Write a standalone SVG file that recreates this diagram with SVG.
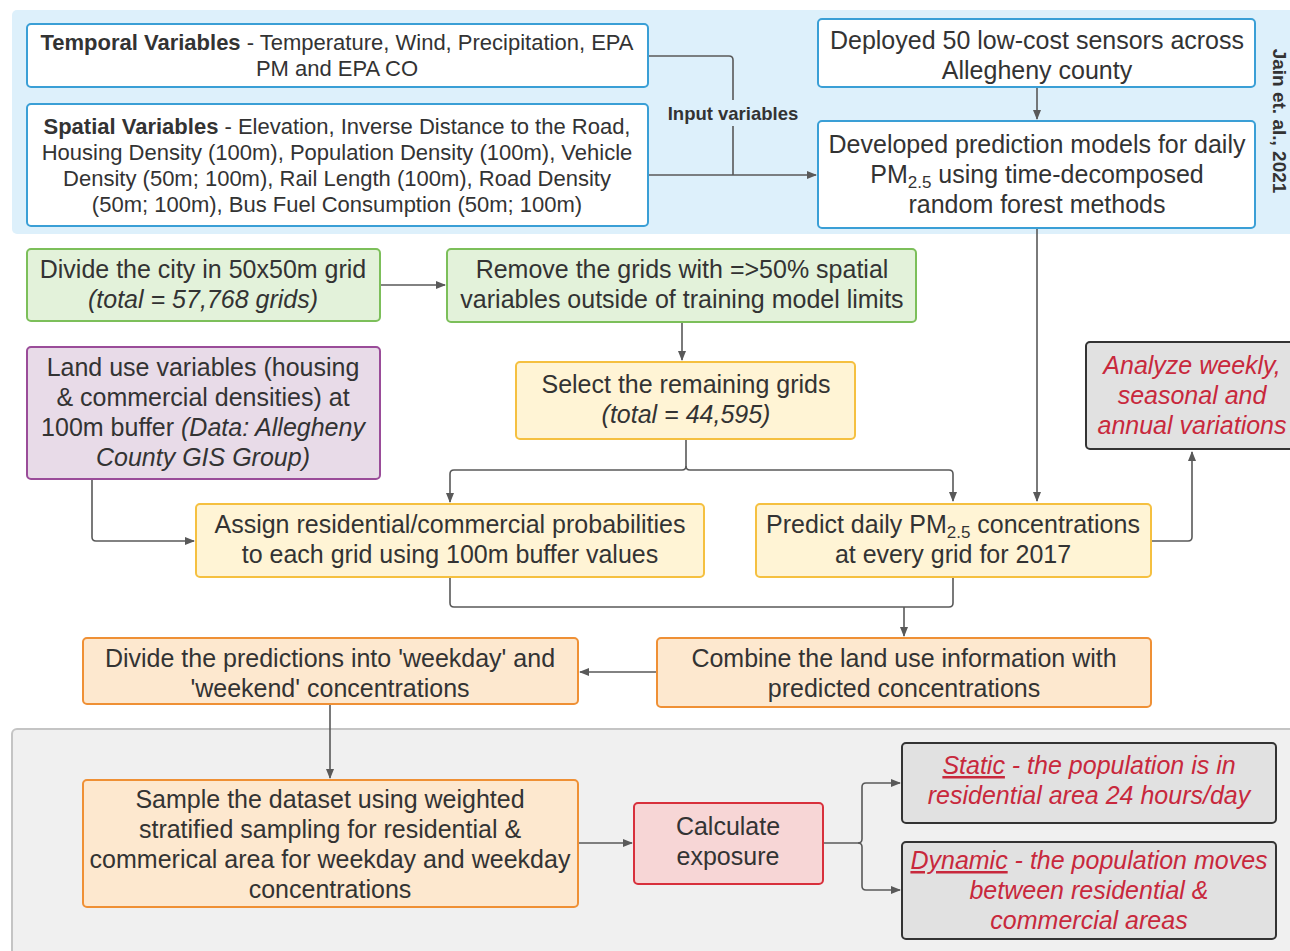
<svg xmlns="http://www.w3.org/2000/svg" width="1290" height="951" viewBox="0 0 1290 951">
<defs>
<marker id="ah" markerWidth="10" markerHeight="8" refX="9" refY="4" orient="auto" markerUnits="userSpaceOnUse">
<path d="M0,0 L10,4 L0,8 Z" fill="#595959"/>
</marker>
<style>
text{font-family:"Liberation Sans",Arial,sans-serif;fill:#333;text-anchor:middle}
.s{font-size:22px}
.m{font-size:25px}
.r{fill:#c8283c;font-style:italic}
.blue{fill:#fff;stroke:#3a9fd6;stroke-width:2}
.green{fill:#e3f2da;stroke:#7cbf5a;stroke-width:2}
.yellow{fill:#fff4d5;stroke:#f5c040;stroke-width:2}
.purple{fill:#e8dbe8;stroke:#9a4c99;stroke-width:2}
.orange{fill:#fde8cf;stroke:#ef9035;stroke-width:2}
.pink{fill:#f7d6d6;stroke:#d8303c;stroke-width:2}
.gray{fill:#e1e1e1;stroke:#333;stroke-width:2}
.c{fill:none;stroke:#595959;stroke-width:1.6;stroke-linejoin:round}
</style>
</defs>
<rect id="container-top" x="12" y="10" width="1290" height="224" rx="5" fill="#ddf0fb"/>
<rect id="container-bottom" x="12" y="729" width="1290" height="232" rx="5" fill="#f0f0f0" stroke="#c4c4c4" stroke-width="2"/>
<text x="1278" y="121" transform="rotate(90 1278 121)" style="font-size:19px;font-weight:bold" dominant-baseline="middle">Jain et. al., 2021</text>

<g id="connectors">
<path class="c" d="M648,56 H729 Q733,56 733,60 V100 M733,126 V175"/>
<path class="c" d="M648,175 H816" marker-end="url(#ah)"/>
<path class="c" d="M1037,87 V119" marker-end="url(#ah)"/>
<path class="c" d="M1037,228 V501" marker-end="url(#ah)"/>
<path class="c" d="M380,285 H445" marker-end="url(#ah)"/>
<path class="c" d="M682,322 V360" marker-end="url(#ah)"/>
<path class="c" d="M686,439 V466 Q686,470 682,470 H454 Q450,470 450,474 V502" marker-end="url(#ah)"/>
<path class="c" d="M686,466 Q686,470 690,470 H949 Q953,470 953,474 V501" marker-end="url(#ah)"/>
<path class="c" d="M92,479 V537 Q92,541 96,541 H194" marker-end="url(#ah)"/>
<path class="c" d="M1151,541 H1188 Q1192,541 1192,537 V452" marker-end="url(#ah)"/>
<path class="c" d="M450,577 V603 Q450,607 454,607 H949 Q953,607 953,603 V577"/>
<path class="c" d="M904,607 V636" marker-end="url(#ah)"/>
<path class="c" d="M657,672 H580" marker-end="url(#ah)"/>
<path class="c" d="M330,704 V778" marker-end="url(#ah)"/>
<path class="c" d="M578,843 H632" marker-end="url(#ah)"/>
<path class="c" d="M823,843 H858 Q862,843 862,839 V787 Q862,783 866,783 H900" marker-end="url(#ah)"/>
<path class="c" d="M858,843 Q862,843 862,847 V886 Q862,890 866,890 H900" marker-end="url(#ah)"/>
</g>
<text x="733" y="120" style="font-size:18.5px;font-weight:bold">Input variables</text>

<g id="temporal">
<rect class="blue" x="27" y="24" width="621" height="63" rx="4"/>
<text class="s" x="337" y="50"><tspan font-weight="bold">Temporal Variables</tspan> - Temperature, Wind, Precipitation, EPA</text>
<text class="s" x="337" y="76">PM and EPA CO</text>
</g>
<g id="spatial">
<rect class="blue" x="27" y="104" width="621" height="122" rx="4"/>
<text class="s" x="337" y="134"><tspan font-weight="bold">Spatial Variables</tspan> - Elevation, Inverse Distance to the Road,</text>
<text class="s" x="337" y="160">Housing Density (100m), Population Density (100m), Vehicle</text>
<text class="s" x="337" y="186">Density (50m; 100m), Rail Length (100m), Road Density</text>
<text class="s" x="337" y="212">(50m; 100m), Bus Fuel Consumption (50m; 100m)</text>
</g>
<g id="deployed">
<rect class="blue" x="818" y="19" width="437" height="68" rx="4"/>
<text class="m" x="1037" y="49">Deployed 50 low-cost sensors across</text>
<text class="m" x="1037" y="79">Allegheny county</text>
</g>
<g id="developed">
<rect class="blue" x="818" y="121" width="437" height="107" rx="4"/>
<text class="m" x="1037" y="153">Developed prediction models for daily</text>
<text class="m" x="1037" y="183">PM<tspan font-size="17" dy="5">2.5</tspan><tspan dy="-5"> using time-decomposed</tspan></text>
<text class="m" x="1037" y="213">random forest methods</text>
</g>
<g id="divide-city">
<rect class="green" x="27" y="249" width="353" height="72" rx="4"/>
<text class="m" x="203" y="278">Divide the city in 50x50m grid</text>
<text class="m" x="203" y="308" font-style="italic">(total = 57,768 grids)</text>
</g>
<g id="remove-grids">
<rect class="green" x="447" y="249" width="469" height="73" rx="4"/>
<text class="m" x="682" y="278">Remove the grids with =&gt;50% spatial</text>
<text class="m" x="682" y="308">variables outside of training model limits</text>
</g>
<g id="land-use">
<rect class="purple" x="27" y="347" width="353" height="132" rx="4"/>
<text class="m" x="203" y="376">Land use variables (housing</text>
<text class="m" x="203" y="406">&amp; commercial densities) at</text>
<text class="m" x="203" y="436">100m buffer <tspan font-style="italic">(Data: Allegheny</tspan></text>
<text class="m" x="203" y="466" font-style="italic">County GIS Group)</text>
</g>
<g id="select-grids">
<rect class="yellow" x="516" y="362" width="339" height="77" rx="4"/>
<text class="m" x="686" y="393">Select the remaining grids</text>
<text class="m" x="686" y="423" font-style="italic">(total = 44,595)</text>
</g>
<g id="analyze">
<rect class="gray" x="1086" y="342" width="214" height="107" rx="4"/>
<text class="m r" x="1192" y="374">Analyze weekly,</text>
<text class="m r" x="1192" y="404">seasonal and</text>
<text class="m r" x="1192" y="434">annual variations</text>
</g>
<g id="assign">
<rect class="yellow" x="196" y="504" width="508" height="73" rx="4"/>
<text class="m" x="450" y="533">Assign residential/commercial probabilities</text>
<text class="m" x="450" y="563">to each grid using 100m buffer values</text>
</g>
<g id="predict">
<rect class="yellow" x="756" y="504" width="395" height="73" rx="4"/>
<text class="m" x="953" y="533">Predict daily PM<tspan font-size="17" dy="5">2.5</tspan><tspan dy="-5"> concentrations</tspan></text>
<text class="m" x="953" y="563">at every grid for 2017</text>
</g>
<g id="combine">
<rect class="orange" x="657" y="638" width="494" height="69" rx="4"/>
<text class="m" x="904" y="667">Combine the land use information with</text>
<text class="m" x="904" y="697">predicted concentrations</text>
</g>
<g id="divide-predictions">
<rect class="orange" x="83" y="638" width="495" height="66" rx="4"/>
<text class="m" x="330" y="667">Divide the predictions into 'weekday' and</text>
<text class="m" x="330" y="697">'weekend' concentrations</text>
</g>
<g id="sample">
<rect class="orange" x="83" y="780" width="495" height="127" rx="4"/>
<text class="m" x="330" y="808">Sample the dataset using weighted</text>
<text class="m" x="330" y="838">stratified sampling for residential &amp;</text>
<text class="m" x="330" y="868">commerical area for weekday and weekday</text>
<text class="m" x="330" y="898">concentrations</text>
</g>
<g id="calculate">
<rect class="pink" x="634" y="803" width="189" height="81" rx="4"/>
<text class="m" x="728" y="835">Calculate</text>
<text class="m" x="728" y="865">exposure</text>
</g>
<g id="static">
<rect class="gray" x="902" y="743" width="374" height="80" rx="4"/>
<text class="m r" x="1089" y="774"><tspan text-decoration="underline">Static</tspan> - the population is in</text>
<text class="m r" x="1089" y="804">residential area 24 hours/day</text>
</g>
<g id="dynamic">
<rect class="gray" x="902" y="842" width="374" height="97" rx="4"/>
<text class="m r" x="1089" y="869"><tspan text-decoration="underline">Dynamic</tspan> - the population moves</text>
<text class="m r" x="1089" y="899">between residential &amp;</text>
<text class="m r" x="1089" y="929">commercial areas</text>
</g>
</svg>
